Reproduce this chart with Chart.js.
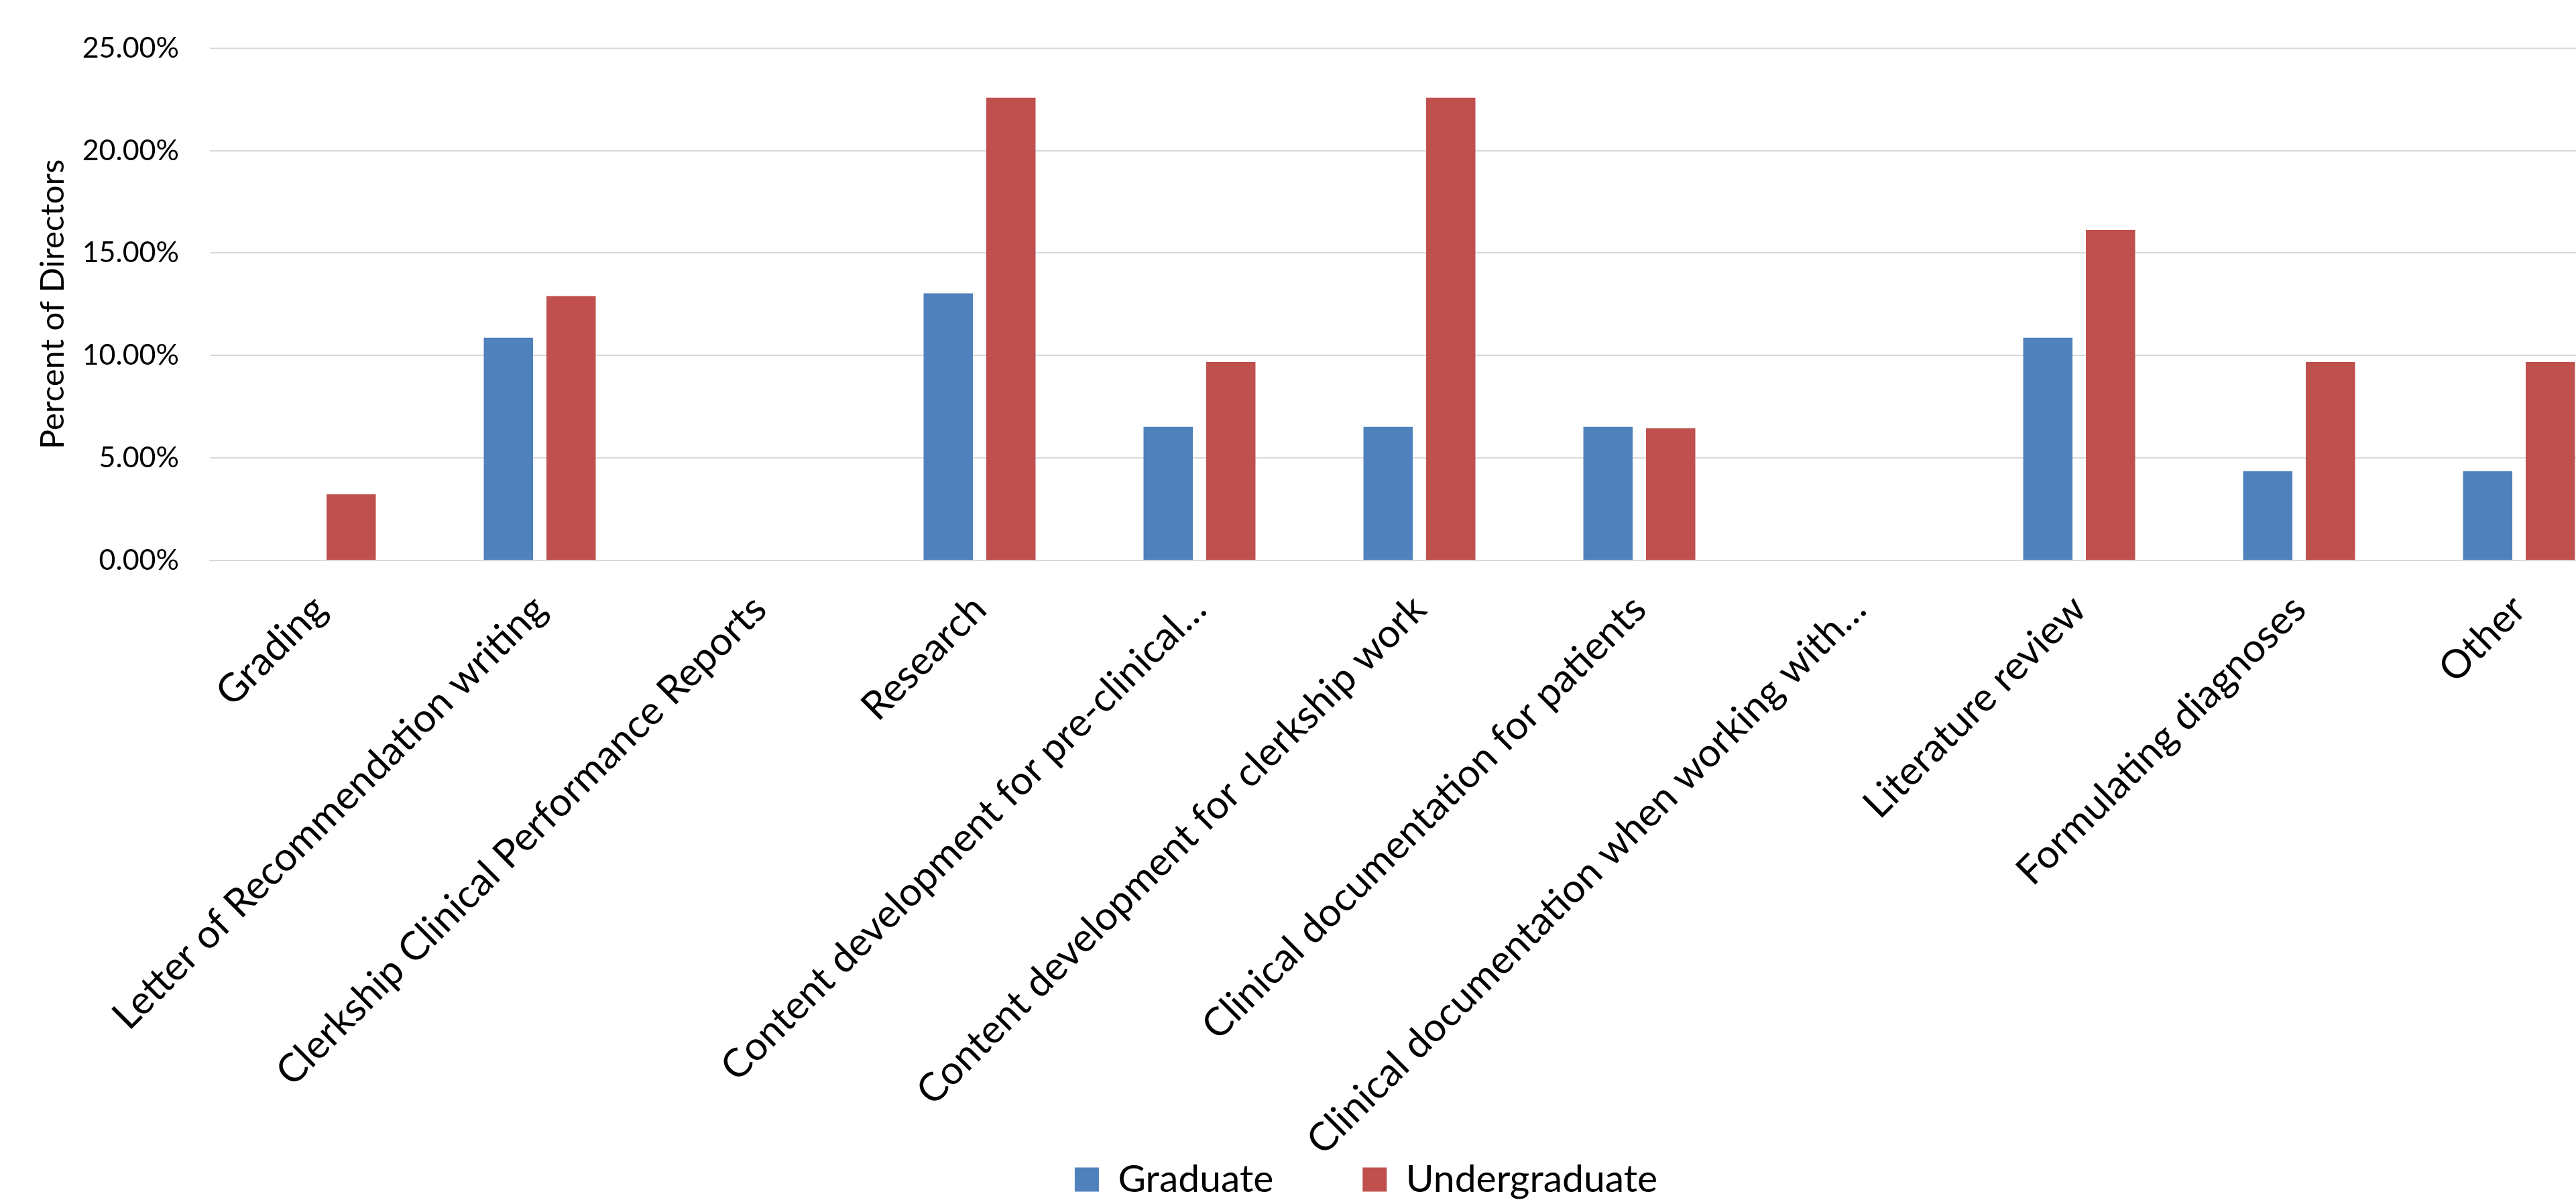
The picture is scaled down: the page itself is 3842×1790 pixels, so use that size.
<!DOCTYPE html>
<html lang="en">
<head>
    <meta charset="UTF-8">
    <title>Percent of Directors</title>
    <script src="https://cdn.jsdelivr.net/npm/chart.js"></script>
    <style>
        html, body { margin: 0; padding: 0; background: #fff; overflow: hidden; }
        /* a bit wider than the window: the original chart is cut off on the right */
        .chart-box { width: 3921px; height: 1790px; }
    </style>
</head>
<body>
    <div class="chart-box"><canvas id="directorsChart"></canvas></div>

    <script>
        const categories = [
            'Grading',
            'Letter of Recommendation writing',
            'Clerkship Clinical Performance Reports',
            'Research',
            'Content development for pre-clinical…',
            'Content development for clerkship work',
            'Clinical documentation for patients',
            'Clinical documentation when working with…',
            'Literature review',
            'Formulating diagnoses',
            'Other'
        ];
        const graduate = [0, 10.87, 0, 13.04, 6.52, 6.52, 6.52, 0, 10.87, 4.35, 4.35];
        const undergraduate = [3.23, 12.90, 0, 22.58, 9.68, 22.58, 6.45, 0, 16.13, 9.68, 9.68];
        const yTicks = [0, 5, 10, 15, 20, 25];

        const PLOT_TOP = 54;
        const PLOT_BOTTOM = 836;
        const PLOT_LEFT = 313;
        const PAD_BOTTOM = -8;
        const LEGEND_SHIFT = 77;

        Chart.defaults.font.family = 'Lato';
        Chart.defaults.color = '#000';

        // after layout: nudge the legend right and let the slanted labels run down past the legend row
        const layoutTweaks = {
            id: 'layoutTweaks',
            afterLayout(chart) {
                chart.legend.left += LEGEND_SHIFT;
                chart.legend.right += LEGEND_SHIFT;
                chart.scales.x.bottom = chart.height;
            }
        };

        new Chart(document.getElementById('directorsChart').getContext('2d'), {
            type: 'bar',
            data: {
                labels: categories,
                datasets: [{
                    label: 'Graduate',
                    data: graduate,
                    backgroundColor: '#4F81BD'
                }, {
                    label: 'Undergraduate',
                    data: undergraduate,
                    backgroundColor: '#C0504D'
                }]
            },
            plugins: [layoutTweaks],
            options: {
                responsive: true,
                maintainAspectRatio: false,
                animation: false,
                categoryPercentage: 0.57,
                barPercentage: 0.786,
                layout: {
                    padding: { top: PLOT_TOP, left: 0, right: 0, bottom: PAD_BOTTOM }
                },
                plugins: {
                    tooltip: { enabled: false },
                    legend: {
                        position: 'bottom',
                        labels: {
                            boxWidth: 36,
                            boxHeight: 36,
                            padding: 133,
                            font: { size: 57 }
                        }
                    }
                },
                scales: {
                    x: {
                        grid: { display: false },
                        border: { color: '#d9d9d9', width: 2 },
                        ticks: {
                            autoSkip: false,
                            maxRotation: 45,
                            minRotation: 45,
                            padding: 30,
                            font: { size: 59 }
                        },
                        afterFit: scale => {
                            const legendH = scale.chart.legend ? scale.chart.legend.height : 200;
                            scale.height = scale.chart.height - PAD_BOTTOM - legendH - PLOT_BOTTOM;
                        }
                    },
                    y: {
                        min: yTicks[0],
                        max: yTicks[yTicks.length - 1],
                        afterBuildTicks: scale => {
                            scale.ticks = yTicks.map(v => ({ value: v }));
                        },
                        grid: { color: '#d9d9d9', lineWidth: 2, drawTicks: false },
                        border: { display: false },
                        ticks: {
                            padding: 46,
                            font: { size: 43 },
                            callback: v => v.toFixed(2) + '%'
                        },
                        title: {
                            display: true,
                            text: 'Percent of Directors',
                            font: { size: 49 },
                            padding: { top: 50, bottom: 0 }
                        },
                        afterFit: scale => {
                            scale.width = PLOT_LEFT;
                        }
                    }
                }
            }
        });
    </script>
</body>
</html>
